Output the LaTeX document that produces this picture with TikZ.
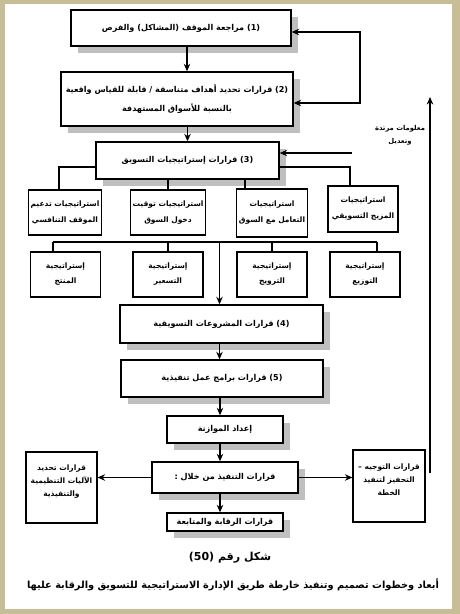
\documentclass[tikz,border=0pt]{standalone}
\usepackage{fontspec}
\usepackage{tikz}
\usetikzlibrary{arrows.meta, shadows}
\TeXXeTstate=1
\newfontfamily\arabicfont[Script=Arabic]{DejaVu Sans}
\definecolor{tanframe}{RGB}{199,190,152}
\newcommand{\ar}[1]{\beginR #1\endR}
\tikzset{
  every node/.style={font=\arabicfont\bfseries\fontsize{7.5}{11}\selectfont},
  mainbox/.style={draw, fill=white, line width=1.4pt, align=center, inner sep=2pt,
    font=\arabicfont\bfseries\fontsize{8.1}{11}\selectfont,
    drop shadow={shadow xshift=7pt, shadow yshift=-7pt, fill=gray!50, opacity=1}},
  subbox/.style={draw, fill=white, line width=1.2pt, align=center, inner sep=2pt,
    minimum width=70pt, minimum height=45pt},
  sidebox/.style={draw, fill=white, line width=1.2pt, align=center, inner sep=2pt,
    minimum width=71pt, minimum height=71pt}
}

\begin{document}
\begin{tikzpicture}[x=1pt, y=-1pt, line width=1.2pt, >={Stealth[length=7.5pt, width=6.5pt]}]
        % Frame
        \fill[tanframe] (0,0) rectangle (460,614);
        \fill[white] (5,4) rectangle (452,609);

        % Nodes
        \node[mainbox, minimum width=220pt, minimum height=36pt] (b1) at (181,28)
          {\ar{\beginL(1)\endL{} مراجعة الموقف (المشاكل) والفرص}};
        \node[mainbox, minimum width=232pt, minimum height=54pt] (b2) at (177,99)
          {\ar{\beginL(2)\endL{} قرارات تحديد أهداف متناسقة / قابلة للقياس واقعية}\\[8pt]\ar{بالنسبة للأسواق المستهدفة}};
        \node[mainbox, minimum width=183pt, minimum height=37pt] (b3) at (187.5,160.5)
          {\ar{\beginL(3)\endL{} قرارات إستراتيجيات التسويق}};

        \node[subbox] (A) at (65,212.5) {\ar{استراتيجيات تدعيم}\\[5pt]\ar{الموقف التنافسي}};
        \node[subbox] (B) at (168,212.5) {\ar{استراتيجيات توقيت}\\[5pt]\ar{دخول السوق}};
        \node[subbox, minimum height=48pt] (C) at (272,213) {\ar{استراتيجيات}\\[5pt]\ar{التعامل مع السوق}};
        \node[subbox, minimum height=46pt] (D) at (363,209) {\ar{استراتيجيات}\\[5pt]\ar{المزيج التسويقي}};

        \node[subbox] (E) at (65.5,274.5) {\ar{إستراتيجية}\\[4pt]\ar{المنتج}};
        \node[subbox] (F) at (168,274.5) {\ar{إستراتيجية}\\[4pt]\ar{التسعير}};
        \node[subbox] (G) at (272,274.5) {\ar{إستراتيجية}\\[4pt]\ar{الترويج}};
        \node[subbox] (H) at (365,274.5) {\ar{إستراتيجية}\\[4pt]\ar{التوزيع}};

        \node[mainbox, minimum width=203pt, minimum height=38pt] (b4) at (221.5,324)
          {\ar{\beginL(4)\endL{} قرارات المشروعات التسويقية}};
        \node[mainbox, minimum width=202pt, minimum height=37pt] (b5) at (222,378.5)
          {\ar{\beginL(5)\endL{} قرارات برامج عمل تنفيذية}};
        \node[mainbox, minimum width=116pt, minimum height=27pt] (b6) at (225,429.5)
          {\ar{إعداد الموازنة}};
        \node[mainbox, minimum width=146pt, minimum height=31pt] (b7) at (225,477.5)
          {\ar{قرارات التنفيذ من خلال :}};
        \node[mainbox, minimum width=116pt, minimum height=18pt] (b8) at (225,522)
          {\ar{قرارات الرقابة والمتابعة}};

        \node[sidebox] (L) at (61.5,487.5)
          {\ar{قرارات تحديد}\\[2pt]\ar{الآليات التنظيمية}\\[2pt]\ar{والتنفيذية}\\[2pt]\mbox{}};
        \node[sidebox, minimum width=72pt, minimum height=72pt] (R) at (389,486)
          {\ar{قرارات التوجيه –}\\[2pt]\ar{التحفيز لتنفيذ}\\[2pt]\ar{الخطة}\\[2pt]\mbox{}};

        \node[align=center, font=\arabicfont\bfseries\fontsize{6.8}{10}\selectfont] (fbtext) at (400,135)
          {\ar{معلومات مرتدة}\\[3pt]\ar{وتعديل}};
        \node[font=\arabicfont\bfseries\fontsize{11}{13}\selectfont] (cap1) at (230,558) {\ar{شكل رقم \beginL(50)\endL}};
        \node[font=\arabicfont\bfseries\fontsize{9.8}{12}\selectfont] (cap2) at (233,585)
          {\ar{أبعاد وخطوات تصميم وتنفيذ خارطة طريق الإدارة الاستراتيجية للتسويق والرقابة عليها}};

        \coordinate (fb1) at (360,32);
        \coordinate (fb2) at (360,103);
        \coordinate (fb3) at (352,153);
        \coordinate (up1) at (430,473);
        \coordinate (up2) at (430,97);
        \coordinate (busL) at (53,242);
        \coordinate (busR) at (377,242);

        % Directed edges
        \draw[->] ([xshift=6pt]b1.south) -- ([xshift=6pt]b1.south |- b2.north);
        \draw[->] (b3.north |- b2.south) -- (b3.north);
        \draw[<->] (b1.east |- fb1) -- (fb1) -- (fb2) -- (b2.east |- fb2);
        \draw[->] (fb3) -- (b3.east |- fb3);
        \draw[->, line width=1.6pt] (up1) -- (up2);

        % Tree lines
        \draw ([yshift=-6.5pt]b3.west) -| ([xshift=-6pt]A.north);
        \draw ([yshift=-6.5pt]b3.east) -| ([xshift=-13pt]D.north);
        \draw (B.north |- b3.south) -- (B.north);
        \draw ([xshift=-27pt]C.north |- b3.south) -- ([xshift=-27pt]C.north);
        \draw (busL) -- (busR);
        \draw (busL) -- (busL |- E.north);
        \draw (F.north |- busL) -- (F.north);
        \draw (G.north |- busL) -- (G.north);
        \draw (busR) -- (busR |- H.north);
        \draw[->] ([xshift=-2pt]b4.north |- busL) -- ([xshift=-2pt]b4.north);

        \draw[->] ([xshift=-2pt]b4.south) -- ([xshift=-2pt]b4.south |- b5.north);
        \draw[->] ([xshift=-2pt]b5.south) -- ([xshift=-2pt]b5.south |- b6.north);
        \draw[->] ([xshift=-5pt]b6.south) -- ([xshift=-5pt]b6.south |- b7.north);
        \draw[->] ([xshift=-5pt]b7.south) -- ([xshift=-5pt]b7.south |- b8.north);
        \draw[->] (b7.west) -- (L.east |- b7.west);
        \draw[->] (b7.east) -- (R.west |- b7.east);
\end{tikzpicture}
\end{document}
